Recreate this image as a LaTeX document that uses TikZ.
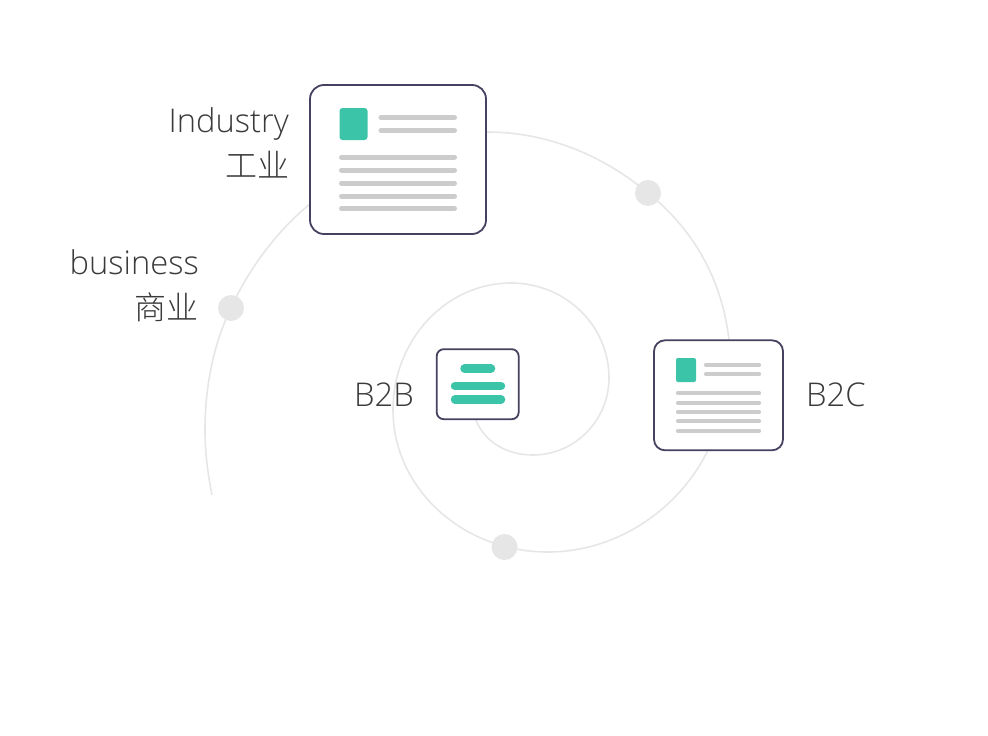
\documentclass[tikz,border=0pt]{standalone}
\usepackage{fontspec}
\setmainfont{Open Sans Light}
\newfontfamily\cjk{Noto Sans CJK SC Light}
\definecolor{frameink}{HTML}{46415F}
\definecolor{spiralgray}{HTML}{E6E6E6}
\definecolor{rulegray}{HTML}{CCCCCC}
\definecolor{tealfill}{HTML}{3CC4A8}
\definecolor{labelink}{HTML}{3A3A3A}
\tikzset{
  card/.style={draw=frameink, line width=1.8pt, fill=white, inner sep=0pt, minimum width=#1},
  stop/.style={circle, fill=spiralgray, inner sep=0pt, minimum size=26pt},
  spiral/.style={draw=spiralgray, line width=1.6pt},
  tag/.style={text=labelink, font=\fontsize{32.7}{36}\selectfont, inner sep=0pt},
  cjktag/.style={text=labelink, font=\cjk\fontsize{32}{36}\selectfont, inner sep=0pt},
  rulebig/.style={draw=rulegray, line width=5pt, line cap=round},
  rulesmall/.style={draw=rulegray, line width=4.2pt, line cap=round},
  tealbar/.style={draw=tealfill, line cap=round}
}
\begin{document}
\begin{tikzpicture}[x=1pt,y=-1pt]
\useasboundingbox (0,0) rectangle (988,736);
% spiral
\path [spiral] (476,420) .. controls (485,443) and (508,455) .. (533,455)
  .. controls (575,455) and (609,420) .. (609,378)
  .. controls (609,325) and (565,283) .. (511,283)
  .. controls (446,283) and (393,340) .. (393,410)
  .. controls (393,488) and (462,552) .. (548,552)
  .. controls (618,552) and (680,508) .. (708,450)
  .. controls (723,420) and (731,380) .. (729,340)
  .. controls (722,278) and (692,228) .. (648,193)
  .. controls (604,156) and (548,132) .. (487,132)
  -- (400,150) -- (310,204)
  .. controls (278,230) and (249,268) .. (231,308)
  .. controls (213,345) and (205,388) .. (205,430)
  .. controls (205,453) and (208,475) .. (212,495);
% stops
\node [stop] (stopA) at (648,193) {};
\node [stop] (stopB) at (231,308) {};
\node [stop] (stopC) at (504.5,547) {};
% industry card
\node [card=176pt, minimum height=149pt, rounded corners=14pt] (industry) at (398,159.5) {};
\fill [tealfill, rounded corners=3pt] (339.5,108) rectangle (367.5,140);
\foreach \y in {117.5,130.5} \draw [rulebig] (381,\y) -- (454.5,\y);
\foreach \y in {157,170,183,196,208.5} \draw [rulebig] (341.5,\y) -- (454.5,\y);
% b2c card
\node [card=129pt, minimum height=110pt, rounded corners=11pt] (btoc) at (718.5,395.3) {};
\fill [tealfill, rounded corners=2pt] (676,358) rectangle (696,382);
\foreach \y in {364.7,374} \draw [rulesmall] (706,\y) -- (759,\y);
\foreach \y in {393.3,402.7,412,421.3,430.7} \draw [rulesmall] (678,\y) -- (759,\y);
% b2b card
\node [card=82pt, minimum height=70pt, rounded corners=7pt] (btob) at (477.7,384.2) {};
\draw [tealbar, line width=8.5pt] (464.5,368.5) -- (491,368.5);
\draw [tealbar, line width=8.5pt] (455,386) -- (501,386);
\draw [tealbar, line width=8.5pt] (455,399.5) -- (501,399.5);
% labels
\node [tag, anchor=base east] (industryen) at (289,132) {Industry};
\node [cjktag, left] (industrycn) at (290,165) {工业};
\node [tag, anchor=base east] (businessen) at (199,274) {business};
\node [cjktag, left] (businesscn) at (199,307) {商业};
\node [tag, anchor=base east] (btobtag) at (414,406) {B2B};
\node [tag, anchor=base west] (btoctag) at (806,406) {B2C};
\end{tikzpicture}
\end{document}
